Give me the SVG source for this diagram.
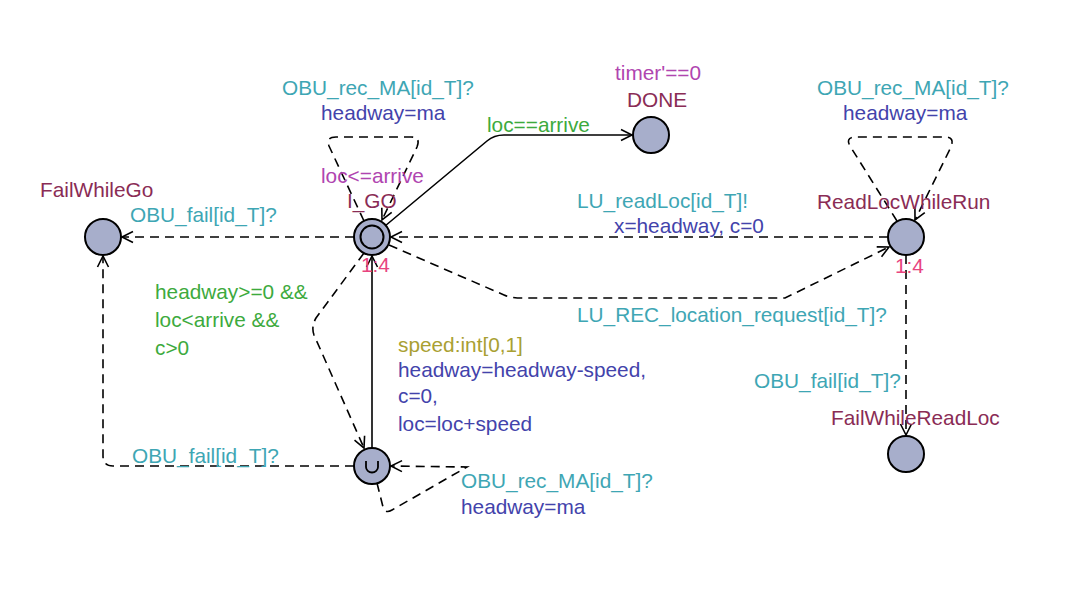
<svg xmlns="http://www.w3.org/2000/svg" width="1070" height="599" viewBox="0 0 1070 599">
<defs>
<style>
text{font-family:"Liberation Sans",Arial,sans-serif;font-size:20.8px}
.loc{fill:#a7aecb;stroke:#000;stroke-width:2}
.e{fill:none;stroke:#000;stroke-width:1.6}
.d{stroke-dasharray:9,6}
.sync{fill:#3ea6b4}
.upd{fill:#4343ab}
.grd{fill:#3daa3d}
.inv{fill:#b045b0}
.name{fill:#8a2c55}
.rate{fill:#e8447f}
.sel{fill:#a9a032}
</style>
<marker id="ah" viewBox="-12 -7 14 14" markerWidth="14" markerHeight="14" refX="0" refY="0" orient="auto" markerUnits="userSpaceOnUse">
<path d="M-11,-5.5 L0,0 L-11,5.5" fill="none" stroke="#000" stroke-width="1.6"/>
</marker>
</defs>
<rect width="1070" height="599" fill="#fff"/>
<g id="connectors">
<path class="e d" d="M354,237 L122,237" marker-end="url(#ah)"/>
<path class="e" d="M385,226 L487,141 Q494,135 504,135 L632,135" marker-end="url(#ah)"/>
<path class="e d" d="M364,221 L329,146 Q326,137 336,137 L411,137 Q421,137 417,147 L382,220" marker-end="url(#ah)"/>
<path class="e d" d="M888,237 L391,237" marker-end="url(#ah)"/>
<path class="e d" d="M389,245 L504,295 Q511,298 522,298 L785,298 L889,247" marker-end="url(#ah)"/>
<path class="e d" d="M897,221 L850,146 Q845,137 856,137 L945,137 Q955,137 951,147 L915,220" marker-end="url(#ah)"/>
<path class="e d" d="M906,255 L906,435" marker-end="url(#ah)"/>
<path class="e d" d="M364,253 L316,318 Q311,327 314,335 L364,448" marker-end="url(#ah)"/>
<path class="e" d="M372,448 L372,256" marker-end="url(#ah)"/>
<path class="e d" d="M354,466 L113,466 Q103,466 103,456 L103,256" marker-end="url(#ah)"/>
<path class="e d" d="M377,483 L383,507 Q385,514 392,510 L467,467 L391,466" marker-end="url(#ah)"/>
<text class="sync" x="130" y="222">OBU_fail[id_T]?</text>
<text class="grd" x="487" y="132">loc==arrive</text>
<text class="sync" x="282" y="95">OBU_rec_MA[id_T]?</text>
<text class="upd" x="321" y="120">headway=ma</text>
<text class="sync" x="577" y="208">LU_readLoc[id_T]!</text>
<text class="upd" x="614" y="233">x=headway, c=0</text>
<text class="sync" x="577" y="322">LU_REC_location_request[id_T]?</text>
<text class="sync" x="817" y="95">OBU_rec_MA[id_T]?</text>
<text class="upd" x="843" y="120">headway=ma</text>
<text class="sync" x="754" y="388">OBU_fail[id_T]?</text>
<text class="grd" x="155" y="299">headway&gt;=0 &amp;&amp;</text>
<text class="grd" x="155" y="327">loc&lt;arrive &amp;&amp;</text>
<text class="grd" x="155" y="355">c&gt;0</text>
<text class="sel" x="398" y="352">speed:int[0,1]</text>
<text class="upd" x="398" y="377">headway=headway-speed,</text>
<text class="upd" x="398" y="403">c=0,</text>
<text class="upd" x="398" y="431">loc=loc+speed</text>
<text class="sync" x="132" y="463">OBU_fail[id_T]?</text>
<text class="sync" x="461" y="488">OBU_rec_MA[id_T]?</text>
<text class="upd" x="461" y="514">headway=ma</text>
</g>
<g id="I_GO">
<circle class="loc" cx="372" cy="237" r="18"/>
<circle class="loc" cx="372" cy="237" r="11.5"/>
<text class="inv" x="321" y="183">loc&lt;=arrive</text>
<text class="name" x="347" y="208">I_GO</text>
<text class="rate" x="361" y="272">1:4</text>
</g>
<g id="DONE">
<circle class="loc" cx="651" cy="135" r="18"/>
<text class="inv" x="615" y="80">timer'==0</text>
<text class="name" x="627" y="107">DONE</text>
</g>
<g id="FailWhileGo">
<circle class="loc" cx="103" cy="237" r="18"/>
<text class="name" x="40" y="197">FailWhileGo</text>
</g>
<g id="ReadLocWhileRun">
<circle class="loc" cx="906" cy="237" r="18"/>
<text class="name" x="817" y="209">ReadLocWhileRun</text>
<text class="rate" x="895" y="273">1:4</text>
</g>
<g id="FailWhileReadLoc">
<circle class="loc" cx="906" cy="454" r="18"/>
<text class="name" x="831" y="425">FailWhileReadLoc</text>
</g>
<g id="Urgent">
<circle class="loc" cx="372" cy="466" r="18"/>
<path d="M366,461 V467 A6,5.5 0 0 0 378,467 V461" fill="none" stroke="#000" stroke-width="1.8"/>
</g>
</svg>
